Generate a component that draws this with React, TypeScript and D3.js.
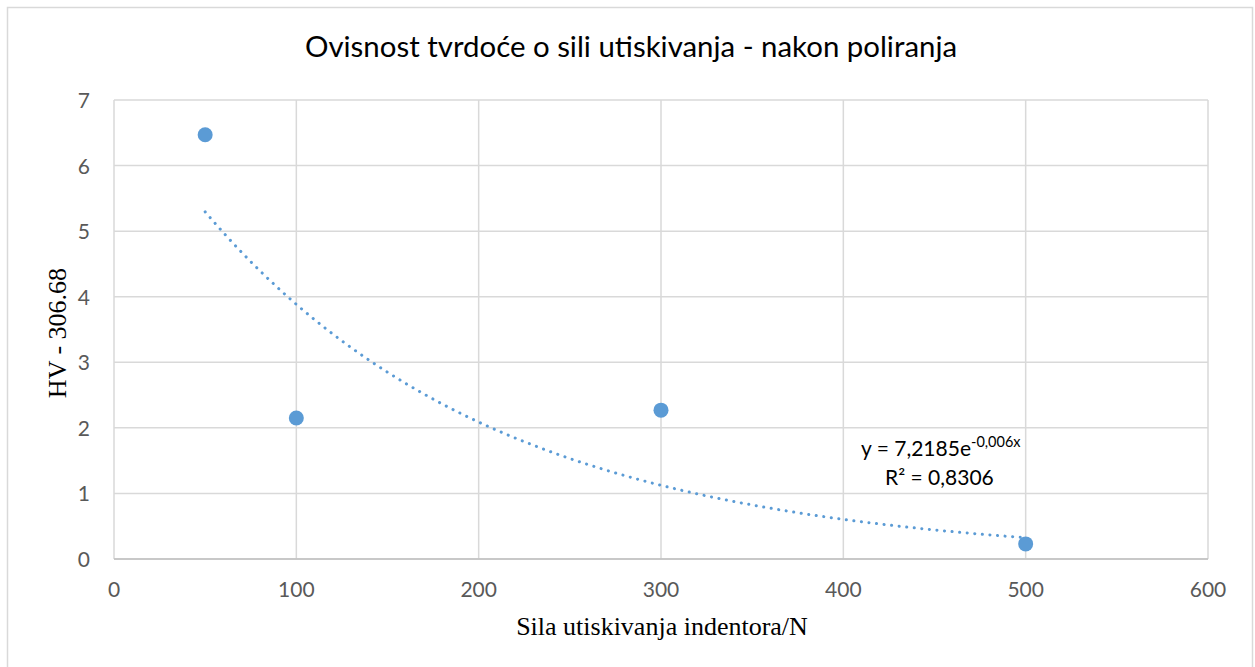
import React from "react";
import * as d3 from "d3";

const forces = [50, 100, 300, 500];
const hardness = [6.47, 2.15, 2.27, 0.23];
const xTicks = [0, 100, 200, 300, 400, 500, 600];
const yTicks = [0, 1, 2, 3, 4, 5, 6, 7];
// exponential fit as drawn (label shows rounded coefficient)
const trendA = 7.2185;
const trendB = -0.0062;
const trendXs = d3.range(50, 500.1, 5);

const W = 1255;
const H = 667;
const margin = { left: 114, right: 47, top: 100, bottom: 108 };

export default function App() {
  const x = d3.scaleLinear().domain([0, 600]).range([margin.left, W - margin.right]);
  const y = d3.scaleLinear().domain([0, 7]).range([H - margin.bottom, margin.top]);
  const line = d3
    .line<number>()
    .x((d) => x(d))
    .y((d) => y(trendA * Math.exp(trendB * d)));
  const blue = "#5B9BD5";
  const grid = "#D9D9D9";
  const sans = "Lato, 'Open Sans', sans-serif";
  const serif = "'Liberation Serif', 'Times New Roman', serif";
  return (
    <svg
      width={W}
      height={H}
      style={{ position: "absolute", left: 0, top: 0, background: "#fff" }}
    >
      <rect x={7.5} y={7.5} width={W - 10} height={H + 10} fill="#fff" stroke={grid} strokeWidth={1.5} />
      <text x={631} y={57} textAnchor="middle" fontFamily={sans} fontSize={29.4} fill="#000">
        Ovisnost tvrdoće o sili utiskivanja - nakon poliranja
      </text>
      {yTicks.map((t) => (
        <g key={"y" + t}>
          <line x1={x(0)} x2={x(600)} y1={y(t)} y2={y(t)} stroke={grid} strokeWidth={1.5} />
          <text x={90} y={y(t) + 8} textAnchor="end" fontFamily={sans} fontSize={21} fill="#595959">
            {t}
          </text>
        </g>
      ))}
      {xTicks.map((t) => (
        <g key={"x" + t}>
          <line x1={x(t)} x2={x(t)} y1={y(0)} y2={y(7)} stroke={grid} strokeWidth={1.5} />
          <text x={x(t)} y={597} textAnchor="middle" fontFamily={sans} fontSize={21} fill="#595959">
            {t}
          </text>
        </g>
      ))}
      <line x1={x(0)} x2={x(600)} y1={y(0)} y2={y(0)} stroke="#BFBFBF" strokeWidth={1.5} />
      <path
        d={line(trendXs) || ""}
        fill="none"
        stroke={blue}
        strokeWidth={3}
        strokeDasharray="0.1 7.5"
        strokeLinecap="round"
      />
      {forces.map((f, i) => (
        <circle key={f} cx={x(f)} cy={y(hardness[i])} r={7.5} fill={blue} />
      ))}
      <text x={861} y={456} fontFamily={sans} fontSize={21} fill="#000">
        y = 7,2185e
        <tspan dy={-9} fontSize={14.5}>-0,006x</tspan>
      </text>
      <text x={885} y={485} fontFamily={sans} fontSize={21} fill="#000">
        R² = 0,8306
      </text>
      <text
        transform={`translate(66, 333) rotate(-90)`}
        textAnchor="middle"
        fontFamily={serif}
        fontSize={26}
        fill="#000"
      >
        HV - 306.68
      </text>
      <text x={662} y={635} textAnchor="middle" fontFamily={serif} fontSize={26} fill="#000">
        Sila utiskivanja indentora/N
      </text>
    </svg>
  );
}
